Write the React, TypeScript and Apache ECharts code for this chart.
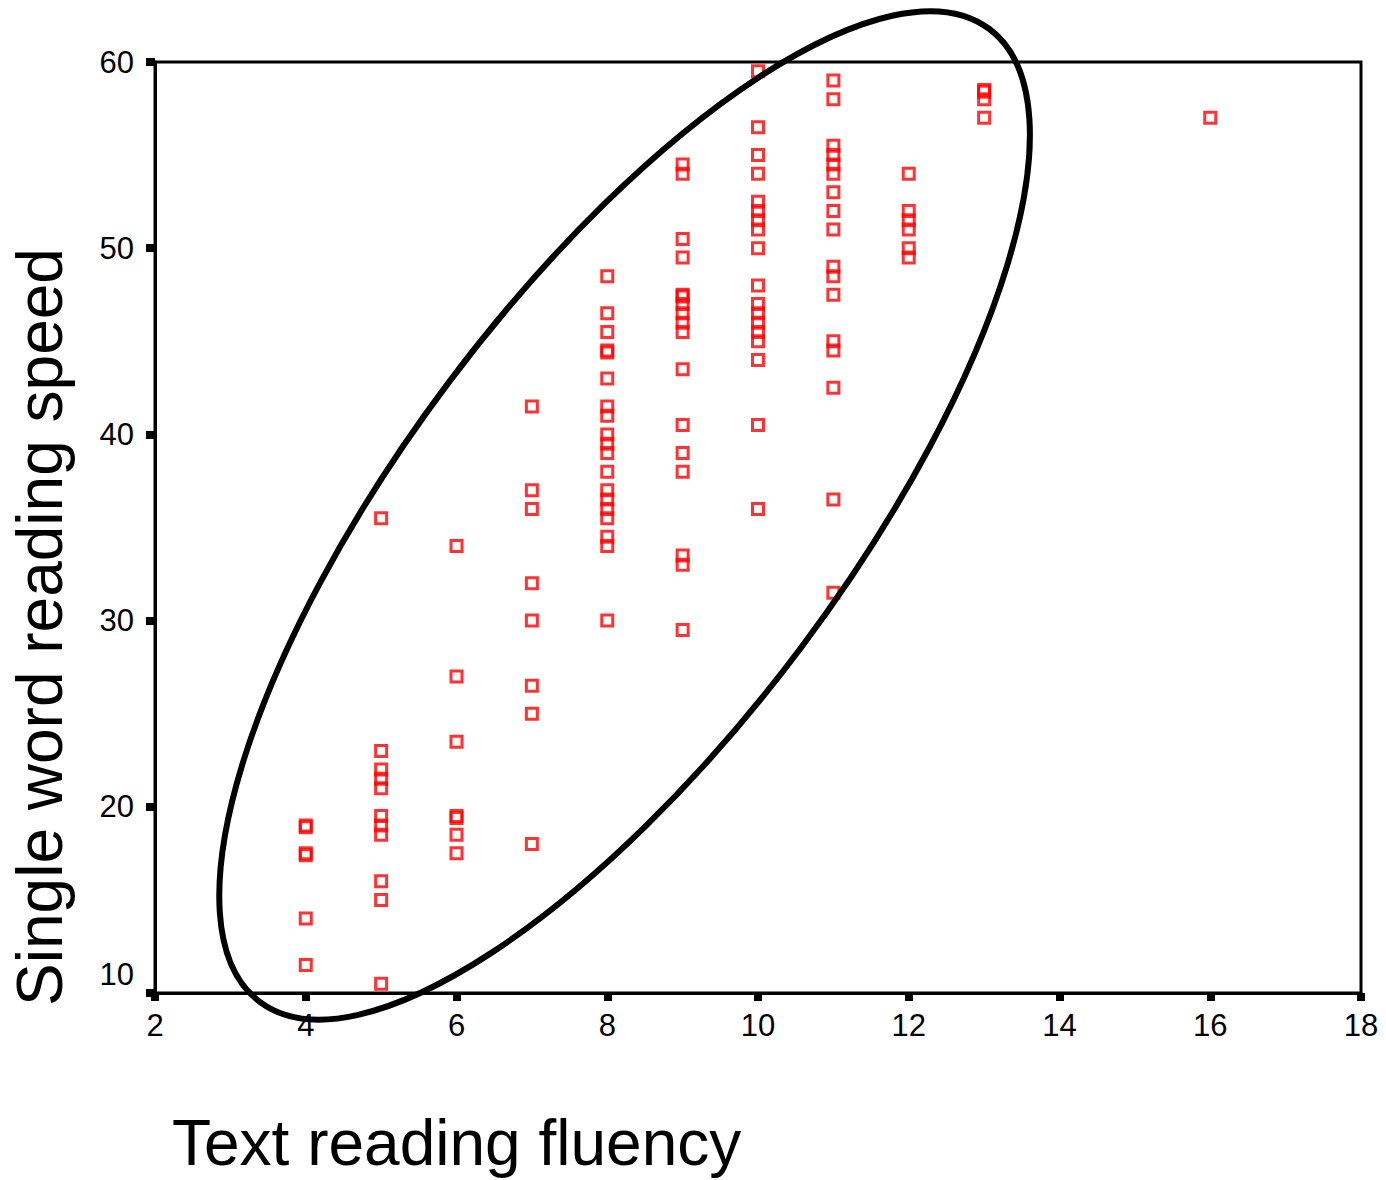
import React, { useEffect, useRef } from "react";
import * as echarts from "echarts";

// Text reading fluency (x) columns and Single word reading speed (y) values
const fluencyColumns = [4, 5, 6, 7, 8, 9, 10, 11, 12, 13, 16];
const speedAt4 = [19, 18.9, 17.5, 17.4, 14, 11.5];
const speedAt5 = [35.5, 23, 22, 21.5, 21, 19.5, 19, 18.5, 16, 15, 10.5];
const speedAt6 = [34, 27, 23.5, 19.5, 19.4, 18.5, 17.5];
const speedAt7 = [41.5, 37, 36, 32, 30, 26.5, 25, 18];
const speedAt8 = [48.5, 46.5, 45.5, 44.5, 44.4, 43, 41.5, 41, 40, 39.5, 39, 38, 37, 36.5, 36, 35.5, 34.5, 34, 30];
const speedAt9 = [54.5, 54, 50.5, 49.5, 47.5, 47.4, 47, 46.5, 46, 45.5, 43.5, 40.5, 39, 38, 33.5, 33, 29.5];
const speedAt10 = [59.5, 56.5, 55, 54, 52.5, 52, 51.5, 51, 50, 48, 47, 46.5, 46, 45.5, 45, 44, 40.5, 36];
const speedAt11 = [59, 58, 55.5, 55, 54.5, 54, 53, 52, 51, 49, 48.5, 47.5, 45, 44.5, 42.5, 36.5, 31.5];
const speedAt12 = [54, 52, 51.5, 51, 50, 49.5];
const speedAt13 = [58.5, 58.4, 58, 57];
const speedAt16 = [57];
const speedColumns = [speedAt4, speedAt5, speedAt6, speedAt7, speedAt8, speedAt9, speedAt10, speedAt11, speedAt12, speedAt13, speedAt16];

const xTicks = [2, 18, 2]; // min, max, interval
const yTicks = [10, 60, 10];

// ellipse annotation centre in data units
const ellipseCenter = [8.23, 35.65];

export default function App() {
  const ref = useRef<HTMLDivElement>(null);
  useEffect(() => {
    if (!ref.current) return;
    const chart = echarts.init(ref.current, null, { renderer: "svg" });
    const points: number[][] = [];
    fluencyColumns.forEach((x, i) => speedColumns[i].forEach((y) => points.push([x, y])));
    const font = "'Liberation Sans', Arial, sans-serif";
    chart.setOption({
      animation: false,
      backgroundColor: "#ffffff",
      grid: {
        left: 155,
        right: 25,
        top: 62,
        bottom: 187,
        show: true,
        borderColor: "#000",
        borderWidth: 3,
        backgroundColor: "transparent",
      },
      xAxis: {
        type: "value",
        min: xTicks[0],
        max: xTicks[1],
        interval: xTicks[2],
        axisLine: { show: true, lineStyle: { color: "#000", width: 3 } },
        axisTick: { show: true, inside: false, length: 8, lineStyle: { color: "#000", width: 8 } },
        axisLabel: { color: "#000", fontSize: 31, fontFamily: font, margin: 17, showMinLabel: true, showMaxLabel: true },
        splitLine: { show: false },
      },
      yAxis: {
        type: "value",
        min: yTicks[0],
        max: yTicks[1],
        interval: yTicks[2],
        axisLine: { show: true, lineStyle: { color: "#000", width: 3 } },
        axisTick: { show: true, inside: false, length: 9, lineStyle: { color: "#000", width: 8 } },
        axisLabel: {
          color: "#000",
          fontSize: 31,
          fontFamily: font,
          margin: 21,
          formatter: (v: number) => (v === yTicks[0] ? "{lo|" + v + "}" : String(v)),
          rich: { lo: { fontSize: 31, fontFamily: font, color: "#000", padding: [0, 0, 38, 0] } },
        },
        splitLine: { show: false },
      },
      series: [
        {
          type: "scatter",
          data: points,
          symbol: "rect",
          symbolSize: 11,
          itemStyle: { color: "rgba(0,0,0,0)", borderColor: "#ff0000", borderWidth: 3 },
          z: 3,
        },
      ],
    });
    const c = chart.convertToPixel({ gridIndex: 0 }, ellipseCenter) as number[];
    chart.setOption({
      graphic: [
        {
          type: "ellipse",
          x: c[0],
          y: c[1],
          rotation: (53.1 * Math.PI) / 180,
          shape: { cx: 0, cy: 0, rx: 608, ry: 220.5 },
          style: { fill: "none", stroke: "#000", lineWidth: 6 },
          z: 10,
        },
        {
          type: "text",
          x: 40,
          y: 627,
          rotation: Math.PI / 2,
          style: {
            text: "Single word reading speed",
            font: "64px " + font,
            fill: "#000",
            textAlign: "center",
            textVerticalAlign: "middle",
          },
        },
        {
          type: "text",
          x: 172,
          y: 1143,
          style: {
            text: "Text reading fluency",
            font: "64px " + font,
            fill: "#000",
            textAlign: "left",
            textVerticalAlign: "middle",
          },
        },
      ],
    });
    return () => chart.dispose();
  }, []);
  return <div ref={ref} style={{ position: "fixed", left: 0, top: 0, width: 1386, height: 1180 }} />;
}
